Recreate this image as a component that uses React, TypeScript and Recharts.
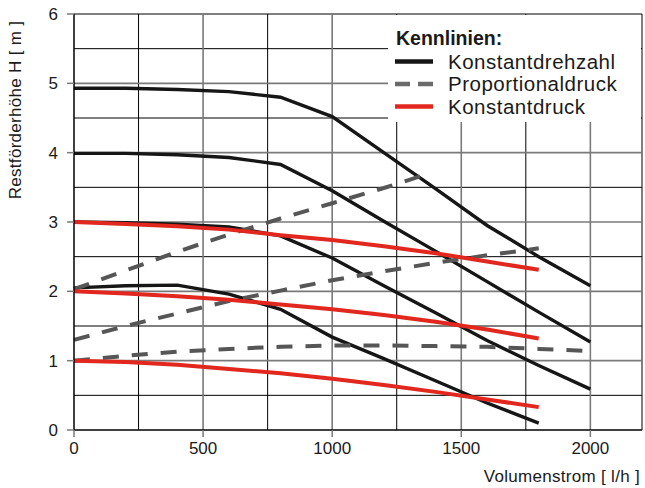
import { CartesianGrid, Line, LineChart, XAxis, YAxis } from 'recharts'

// Volumenstrom [l/h] sample points
const flowTo2000 = [0, 200, 400, 600, 800, 1000, 1200, 1400, 1600, 1800, 2000]
const flowTo1800 = [0, 200, 400, 600, 800, 1000, 1200, 1400, 1600, 1800]
const flowTo1350 = [0, 200, 400, 600, 800, 1000, 1200, 1350]

// Konstantdrehzahl (black)
const speed5 = [4.93, 4.93, 4.91, 4.88, 4.8, 4.52, 4.0, 3.48, 2.95, 2.5, 2.08]
const speed4 = [3.99, 3.99, 3.97, 3.93, 3.83, 3.45, 3.01, 2.58, 2.14, 1.7, 1.27]
const speed3 = [3.0, 2.99, 2.97, 2.93, 2.8, 2.48, 2.08, 1.69, 1.29, 0.93, 0.59]
const speed2 = [2.05, 2.08, 2.09, 1.96, 1.74, 1.34, 1.03, 0.71, 0.39, 0.1]

// Proportionaldruck (dashed grey)
const prop3 = [2.03, 2.3, 2.57, 2.82, 3.05, 3.27, 3.49, 3.67]
const prop2 = [1.3, 1.5, 1.68, 1.86, 2.01, 2.16, 2.29, 2.41, 2.52, 2.62]
const prop1 = [1.0, 1.07, 1.13, 1.17, 1.2, 1.22, 1.22, 1.21, 1.2, 1.17, 1.14]

// Konstantdruck (red)
const const3 = [3.0, 2.97, 2.94, 2.89, 2.81, 2.74, 2.65, 2.55, 2.43, 2.31]
const const2 = [2.0, 1.97, 1.93, 1.88, 1.81, 1.74, 1.66, 1.56, 1.45, 1.32]
const const1 = [1.0, 0.98, 0.94, 0.88, 0.82, 0.74, 0.65, 0.55, 0.44, 0.33]

const xTicks = [0, 500, 1000, 1500, 2000]
const yTicks = [0, 1, 2, 3, 4, 5, 6]
const xGridFine = [250, 750, 1250, 1750, 2200]
const xGridMain = [500, 1000, 1500, 2000]
const yGridFine = [0.5, 1.5, 2.5, 3.5, 4.5, 5.5, 6]
const yGridMain = [1, 2, 3, 4, 5]

const legendItems = ['Konstantdrehzahl', 'Proportionaldruck', 'Konstantdruck']

const BLACK = '#161616'
const GREY = '#565656'
const RED = '#e2281e'
const INK = '#1a1a1a'
const FONT = '"Liberation Sans", Arial, sans-serif'

const toPoints = (flow: number[], head: number[]) => flow.map((q, i) => ({ q, h: head[i] }))

const blackSeries = [
  toPoints(flowTo2000, speed5),
  toPoints(flowTo2000, speed4),
  toPoints(flowTo2000, speed3),
  toPoints(flowTo1800, speed2),
]
const dashedSeries = [
  toPoints(flowTo1350, prop3),
  toPoints(flowTo1800, prop2),
  toPoints(flowTo2000, prop1),
]
const redSeries = [
  toPoints(flowTo1800, const3),
  toPoints(flowTo1800, const2),
  toPoints(flowTo1800, const1),
]

function LegendBox() {
  const styles = [
    { stroke: BLACK, dash: undefined },
    { stroke: '#6a6a6a', dash: '15 8' },
    { stroke: RED, dash: undefined },
  ]
  return (
    <div
      style={{
        position: 'absolute',
        left: 388,
        top: 15,
        width: 253,
        height: 107,
        background: '#fff',
      }}
    >
      <svg width={253} height={107}>
        <text x={8} y={30} fontSize={19.5} fontWeight="bold" fill={INK} fontFamily={FONT}>
          Kennlinien:
        </text>
        {legendItems.map((name, i) => (
          <g key={name}>
            <line
              x1={7}
              x2={45}
              y1={46.5 + i * 22.5}
              y2={46.5 + i * 22.5}
              stroke={styles[i].stroke}
              strokeWidth={4.5}
              strokeDasharray={styles[i].dash}
            />
            <text
              x={60}
              y={53.5 + i * 22.5}
              fontSize={20.5}
              letterSpacing={0.5}
              fill={INK}
              fontFamily={FONT}
            >
              {name}
            </text>
          </g>
        ))}
      </svg>
    </div>
  )
}

export default function App() {
  return (
    <div style={{ position: 'absolute', left: 0, top: 0, width: 645, height: 488, background: '#fff' }}>
      <LineChart width={645} height={488} margin={{ top: 14, right: 3, bottom: 0, left: 0 }}>
        <CartesianGrid
          stroke="#000"
          strokeWidth={1}
          horizontalValues={yGridFine}
          verticalValues={xGridFine}
        />
        <CartesianGrid
          stroke="#7a7a7a"
          strokeWidth={1.6}
          horizontalValues={yGridMain}
          verticalValues={xGridMain}
        />
        <XAxis
          type="number"
          dataKey="q"
          domain={[0, 2200]}
          ticks={xTicks}
          height={58}
          tickSize={7}
          tickMargin={5}
          axisLine={{ stroke: '#000', strokeWidth: 1.5 }}
          tickLine={{ stroke: '#7a7a7a', strokeWidth: 1.5 }}
          tick={{ fill: INK, fontSize: 17, fontFamily: FONT }}
          label={{
            content: ({ viewBox }: any) => (
              <text
                x={viewBox.x + viewBox.width - 2}
                y={viewBox.y + viewBox.height - 6}
                textAnchor="end"
                fontSize={17}
                letterSpacing={0.3}
                fill={INK}
                fontFamily={FONT}
              >
                Volumenstrom [ l/h ]
              </text>
            ),
          }}
        />
        <YAxis
          type="number"
          dataKey="h"
          domain={[0, 6]}
          ticks={yTicks}
          width={74}
          tickSize={7}
          tickMargin={9}
          axisLine={{ stroke: '#000', strokeWidth: 1.5 }}
          tickLine={{ stroke: '#7a7a7a', strokeWidth: 1.5 }}
          tick={{ fill: INK, fontSize: 17, fontFamily: FONT }}
          label={{
            content: ({ viewBox }: any) => {
              const x = viewBox.x + 21
              const y = viewBox.y + 96
              return (
                <text
                  x={x}
                  y={y}
                  transform={`rotate(-90, ${x}, ${y})`}
                  textAnchor="middle"
                  fontSize={17}
                  letterSpacing={0.3}
                  fill={INK}
                  fontFamily={FONT}
                >
                  Restförderhöhe H [ m ]
                </text>
              )
            },
          }}
        />
        {blackSeries.map((data, i) => (
          <Line
            key={`speed-${i}`}
            data={data}
            dataKey="h"
            type="linear"
            stroke={BLACK}
            strokeWidth={3.4}
            dot={false}
            activeDot={false}
            isAnimationActive={false}
          />
        ))}
        {dashedSeries.map((data, i) => (
          <Line
            key={`prop-${i}`}
            data={data}
            dataKey="h"
            type="linear"
            stroke={GREY}
            strokeWidth={4}
            strokeDasharray="16 13"
            dot={false}
            activeDot={false}
            isAnimationActive={false}
          />
        ))}
        {redSeries.map((data, i) => (
          <Line
            key={`const-${i}`}
            data={data}
            dataKey="h"
            type="linear"
            stroke={RED}
            strokeWidth={4}
            dot={false}
            activeDot={false}
            isAnimationActive={false}
          />
        ))}
      </LineChart>
      <LegendBox />
    </div>
  )
}
